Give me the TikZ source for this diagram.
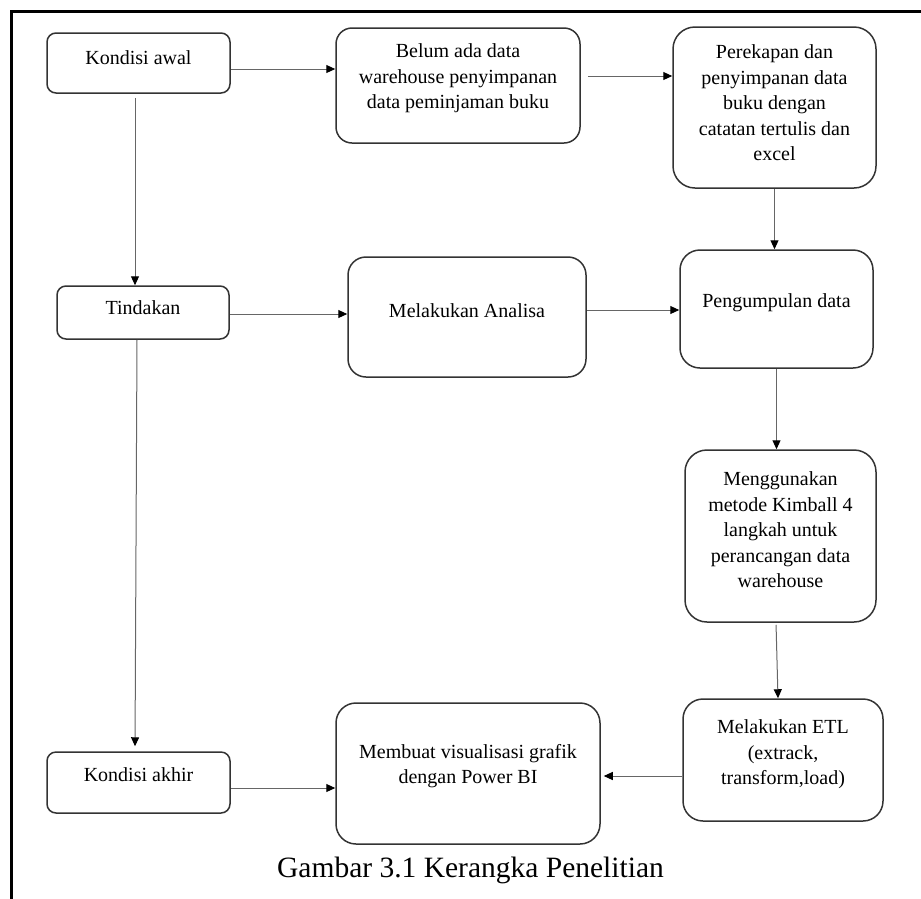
\documentclass[tikz,border=0pt]{standalone}
\usepackage{fontspec}
\setmainfont{Liberation Serif}
\usetikzlibrary{arrows.meta}
\begin{document}
\begin{tikzpicture}[x=1pt,y=-1pt,
  box/.style={draw=black!80, line width=1.5pt, rounded corners=#1, inner sep=0pt},
  box/.default=15pt,
  txt/.style={align=center, font=\fontsize{20}{25.5}\selectfont, text=black},
  arr/.style={draw=black!60, line width=1pt, -{Triangle[length=9pt,width=8pt,color=black]}},
  frame/.style={line width=3.5pt, draw=black}
]
\useasboundingbox (0,0) rectangle (921,898);
\draw[frame] (11.5,900) -- (11.5,11.5) -- (923,11.5);

\node[box=9pt, minimum width=183pt, minimum height=60pt,
  label={[txt,yshift=5pt]center:Kondisi awal}] (ka) at (138.5,63) {};
\node[box=16pt, minimum width=244pt, minimum height=115pt,
  label={[txt,yshift=7pt]center:{Belum ada data\\warehouse penyimpanan\\data peminjaman buku}}] (belum) at (458,85.5) {};
\node[box=22pt, minimum width=203pt, minimum height=161pt,
  label={[txt,yshift=4.5pt]center:{Perekapan dan\\penyimpanan data\\buku dengan\\catatan tertulis dan\\excel}}] (rek) at (774.5,107.5) {};
\node[box=9pt, minimum width=172pt, minimum height=53pt,
  label={[txt,yshift=4.5pt]center:Tindakan}] (tind) at (143,312.5) {};
\node[box=18pt, minimum width=238pt, minimum height=120pt,
  label={[txt,yshift=6pt]center:Melakukan Analisa}] (anal) at (467,317) {};
\node[box=20pt, minimum width=193pt, minimum height=118pt,
  label={[txt,yshift=6pt]center:Pengumpulan data}] (peng) at (776.5,309) {};
\node[box=22pt, minimum width=191pt, minimum height=172pt,
  label={[txt,yshift=6pt]center:{Menggunakan\\metode Kimball 4\\langkah untuk\\perancangan data\\warehouse}}] (meng) at (780.5,536) {};
\node[box=20pt, minimum width=200pt, minimum height=122pt,
  label={[txt,yshift=5.5pt]center:{Melakukan ETL\\(extrack,\\transform,load)}}] (etl) at (783,760) {};
\node[box=9pt, minimum width=183pt, minimum height=61pt,
  label={[txt,yshift=7.5pt]center:Kondisi akhir}] (akhir) at (138.5,782.5) {};
\node[box=20pt, minimum width=264pt, minimum height=141pt,
  label={[txt,yshift=7.5pt]center:{Membuat visualisasi grafik\\dengan Power BI}}] (buat) at (468,773.5) {};

\node[font=\fontsize{29.5}{35}\selectfont] (cap) at (470.5,870) {Gambar 3.1 Kerangka Penelitian};

% connector start points
\coordinate (s1) at ([yshift=-6pt]ka.east);
\coordinate (s2) at ([yshift=9.5pt]belum.east);
\coordinate (s4) at ([xshift=-3.5pt]ka.south);
\coordinate (s5) at ([yshift=-1.5pt]tind.east);
\coordinate (s6) at ([yshift=7pt]anal.east);
\coordinate (s8) at ([xshift=-4.5pt]meng.south);
\coordinate (e8) at ([xshift=-5pt]etl.north);
\coordinate (s9) at ([xshift=-6pt]tind.south);
\coordinate (e9) at ([xshift=-3.5pt]akhir.north);
\coordinate (s10) at ([yshift=-16pt]etl.west);
\coordinate (s11) at ([yshift=-5.5pt]akhir.east);

\draw[arr] (s1) -- (s1 -| belum.west);
\draw[arr, shorten <=7pt] (s2) -- (s2 -| rek.west);
\draw[arr] (rek.south) -- (rek.south |- peng.north);
\draw[arr, shorten <=4pt] (s4) -- (s4 |- tind.north);
\draw[arr] (s5) -- (s5 -| anal.west);
\draw[arr] (s6) -- (s6 -| peng.west);
\draw[arr] (peng.south) -- (peng.south |- meng.north);
\draw[arr, shorten <=2pt] (s8) -- (e8);
\draw[arr, shorten >=5pt] (s9) -- (e9);
\draw[arr, shorten >=3pt] (s10) -- (s10 -| buat.east);
\draw[arr] (s11) -- (s11 -| buat.west);
\end{tikzpicture}
\end{document}
